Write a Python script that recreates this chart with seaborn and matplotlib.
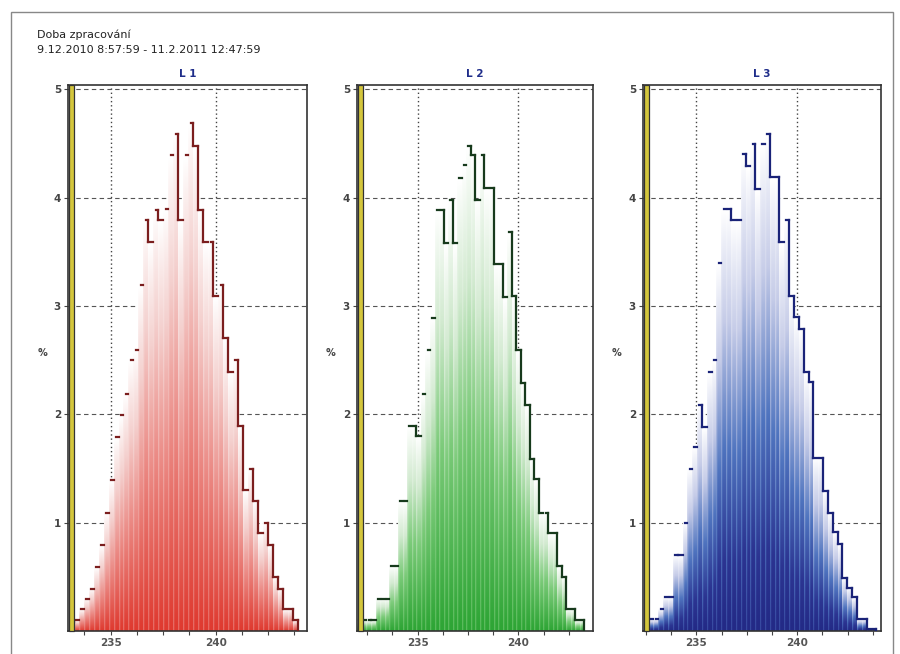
import numpy as np
import pandas as pd
import matplotlib
matplotlib.use("Agg")
import matplotlib.pyplot as plt
import seaborn as sns
from matplotlib.colors import LinearSegmentedColormap
from matplotlib.ticker import FixedLocator, MultipleLocator
from matplotlib.patches import Rectangle
from matplotlib.collections import LineCollection

# ---------------- data ----------------
phases = ["L 1", "L 2", "L 3"]

# histogram bin start voltage and bin width per phase
l1_start, l1_width = 233.0, 0.2375
l2_start, l2_width = 232.02, 0.225
l3_start, l3_width = 232.4, 0.24

# percentage of samples in each voltage bin
l1_pct = [0.08, 0.10, 0.20, 0.30, 0.39, 0.59, 0.79, 1.09, 1.39, 1.79,
          1.99, 2.19, 2.50, 2.59, 3.19, 3.79, 3.59, 3.89, 3.79, 3.90,
          4.39, 4.59, 3.79, 4.39, 4.69, 4.48, 3.89, 3.59, 3.59, 3.09,
          3.19, 2.70, 2.39, 2.50, 1.89, 1.30, 1.50, 1.20, 0.90, 1.00,
          0.79, 0.50, 0.39, 0.20, 0.20, 0.10]
l2_pct = [0.10, 0.10, 0.10, 0.10, 0.30, 0.30, 0.30, 0.60, 0.60, 1.20,
          1.20, 1.89, 1.89, 1.80, 2.19, 2.59, 2.89, 3.89, 3.89, 3.58,
          3.98, 3.58, 4.18, 4.30, 4.48, 4.39, 3.98, 4.39, 4.09, 4.09,
          3.39, 3.39, 3.08, 3.68, 3.09, 2.59, 2.29, 2.09, 1.59, 1.40,
          1.09, 1.09, 0.90, 0.90, 0.60, 0.50, 0.20, 0.20, 0.10, 0.10]
l3_pct = [0.11, 0.11, 0.11, 0.20, 0.31, 0.31, 0.70, 0.70, 1.00, 1.50,
          1.70, 2.09, 1.88, 2.39, 2.50, 3.40, 3.90, 3.90, 3.79, 3.79,
          4.40, 4.29, 4.50, 4.08, 4.50, 4.59, 4.19, 4.19, 3.59, 3.79,
          3.09, 2.90, 2.79, 2.39, 2.30, 1.60, 1.60, 1.29, 1.09, 0.91,
          0.80, 0.49, 0.40, 0.31, 0.11, 0.11, 0.02, 0.02]

x_ticks = [235, 240]
y_ticks = [1, 2, 3, 4, 5]
y_tick_labels = ["1", "2", "3", "4", "5"]
title_line1 = "Doba zpracování"
title_line2 = "9.12.2010 8:57:59 - 11.2.2011 12:47:59"

# ---------------- styling ----------------
starts = [l1_start, l2_start, l3_start]
widths = [l1_width, l2_width, l3_width]
values = [l1_pct, l2_pct, l3_pct]
xlims = [(232.97, 244.35), (232.0, 243.7), (232.36, 244.15)]
base_colors = ["#e0382d", "#2ea535", "#1c2582"]
cmaps = [
    LinearSegmentedColormap.from_list("r", [(0, "#ffffff"), (0.3, "#f4d0ce"), (0.6, "#ec8f8a"), (1, "#df3a30")]),
    LinearSegmentedColormap.from_list("g", [(0, "#ffffff"), (0.3, "#d2ead0"), (0.6, "#7ccb7a"), (1, "#2ea535")]),
    LinearSegmentedColormap.from_list("b", [(0, "#ffffff"), (0.3, "#c6cce8"), (0.6, "#4f74bf"), (0.85, "#2c3592"), (1, "#232a86")]),
]
outline_colors = ["#7b1e1e", "#173a1c", "#1a2378"]
axes_px = [(68, 307), (357, 593), (643, 881)]
W, H = 900, 654
top_px, bottom_px = 85, 631

sns.set_theme(style="white")
plt.rcParams["font.family"] = ["DejaVu Sans"]

fig = plt.figure(figsize=(W / 100, H / 100), dpi=100)
fig.patch.set_facecolor("white")


def gradient_img(cmap, ny=80, nx=10):
    t = np.linspace(0, 1, ny)[:, None]
    v = (1 - t) ** 0.9
    xf = np.linspace(0, 1, nx)[None, :]
    v = v * np.clip(0.72 + 0.28 * xf / 0.35, 0, 1)
    return cmap(v)


for i in range(3):
    l, r = axes_px[i]
    ax = fig.add_axes([l / W, 1 - bottom_px / H, (r - l) / W, (bottom_px - top_px) / H])
    pct = np.array(values[i], dtype=float)
    n = len(pct)
    edges = starts[i] + widths[i] * np.arange(n + 1)
    centers = edges[:-1] + widths[i] / 2
    df = pd.DataFrame({"voltage": centers, "pct": pct})

    sns.histplot(data=df, x="voltage", weights="pct", bins=[float(e) for e in edges],
                 ax=ax, element="bars", fill=True, linewidth=0, color=base_colors[i])

    img = gradient_img(cmaps[i])
    segs = []
    bars = [p for p in ax.patches if isinstance(p, Rectangle)]
    hs = [p.get_height() for p in bars]
    for k, p in enumerate(bars):
        x0, w, h = p.get_x(), p.get_width(), p.get_height()
        p.set_visible(False)
        if h <= 0:
            continue
        ax.imshow(img, extent=(x0, x0 + w, 0, h), origin="lower", aspect="auto",
                  interpolation="bilinear", zorder=1)
        hp = hs[k - 1] if k > 0 else 0
        hn = hs[k + 1] if k < len(hs) - 1 else 0
        if hp > h:
            segs.append([(x0, h), (x0 + w, h)])
        else:
            segs.append([(x0 + 0.45 * w, h), (x0 + w, h)])
        if hn < h:
            segs.append([(x0 + w, h), (x0 + w, hn)])
    lc = LineCollection(segs, colors=outline_colors[i], linewidths=1.6,
                        capstyle="projecting", zorder=3)
    ax.add_collection(lc)

    ax.set_xlim(*xlims[i])
    ax.set_ylim(0, 5.04)
    ax.set_xlabel("")
    ax.set_ylabel("")

    ax.xaxis.set_major_locator(FixedLocator(x_ticks))
    ax.xaxis.set_minor_locator(MultipleLocator(1.25))
    ax.set_yticks(y_ticks, labels=y_tick_labels, fontweight="bold")
    for lbl in ax.get_xticklabels():
        lbl.set_fontweight("bold")
    ax.tick_params(axis="both", which="both", direction="out", length=3,
                   width=0.8, color="#444", bottom=True, left=True)
    ax.tick_params(axis="x", labelsize=7.5, labelcolor="#555", pad=2)
    ax.tick_params(axis="y", labelsize=7.5, labelcolor="#444", pad=2)

    ax.set_axisbelow(True)
    ax.grid(True, axis="y", linestyle=(0, (4, 3)), color="#555", linewidth=0.8)
    ax.grid(True, axis="x", which="major", linestyle=(0, (1, 2)), color="#444", linewidth=1.0)

    for s in ax.spines.values():
        s.set_color("#333")
        s.set_linewidth(1.2)

    # yellow strip along the left border
    ax.add_patch(Rectangle((0.004, 0), 0.02, 1, transform=ax.transAxes,
                           facecolor="#d4c63c", edgecolor="#333", linewidth=0.9,
                           zorder=5, clip_on=False))

    ax.set_title(phases[i], color="#1f2d8a", fontsize=7.5, fontweight="bold", pad=6)
    ax.text(-26 / (r - l), 0.51, "%", transform=ax.transAxes, ha="center",
            va="center", fontsize=7, fontweight="bold", color="#444")

fig.text(37 / W, 1 - 35 / H, title_line1, fontsize=8, color="#222", va="center")
fig.text(37 / W, 1 - 50 / H, title_line2, fontsize=8, color="#222", va="center")
fig.add_artist(Rectangle((11 / W, -0.05), 882 / W, (H - 12) / H + 0.05,
                         transform=fig.transFigure, fill=False,
                         edgecolor="#888", linewidth=1))

fig.savefig("out.png", dpi=100)
